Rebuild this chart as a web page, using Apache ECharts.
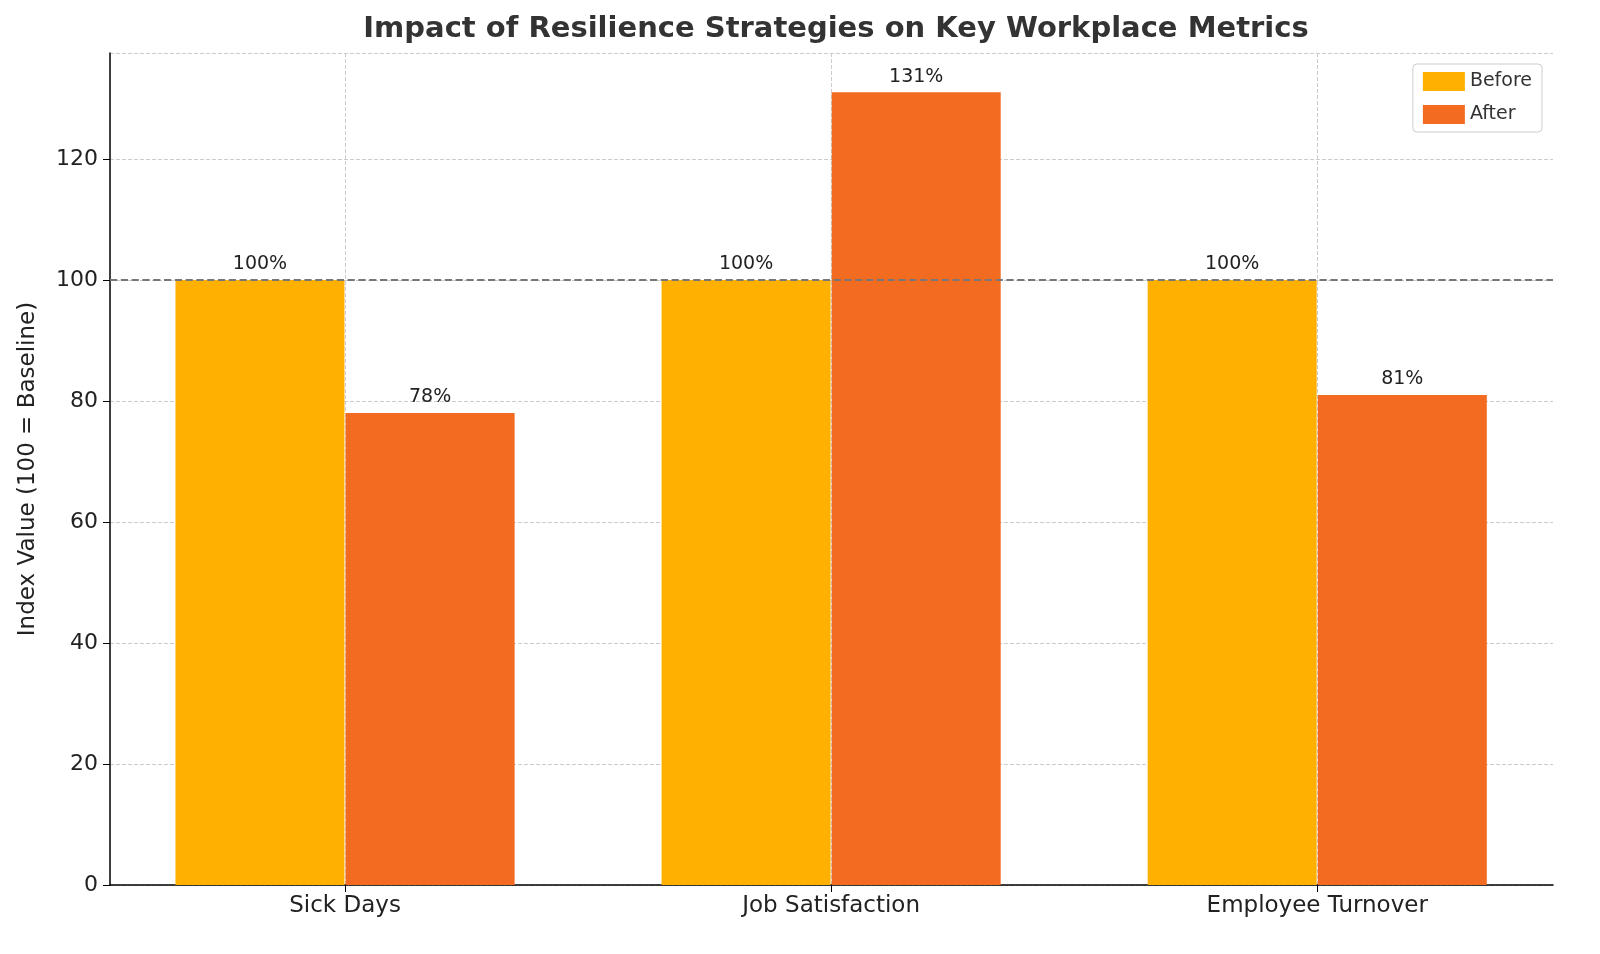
<!DOCTYPE html>
<html><head><meta charset="utf-8">
<script src="https://cdn.jsdelivr.net/npm/echarts@6/dist/echarts.min.js"></script>
<style>html,body{margin:0;padding:0;background:#fff}#c{width:1600px;height:954px}</style>
</head><body><div id="c"></div>
<script>
const categories = ["Sick Days", "Job Satisfaction", "Employee Turnover"];
const beforeValues = [100, 100, 100];
const afterValues = [78, 131, 81];
const yTicks = [0, 20, 40, 60, 80, 100, 120];

const off = 0.175;
const font = "DejaVu Sans";
const chart = echarts.init(document.getElementById('c'));
const lbl = {show:true, position:'top', distance:6, fontFamily:font, fontSize:19, color:'#222', formatter:p=>p.value[1]+'%'};
chart.setOption({
  animation:false,
  title:{text:'Impact of Resilience Strategies on Key Workplace Metrics', left:831, textAlign:'center', top:10,
    textStyle:{fontFamily:font, fontSize:29, fontWeight:'bold', color:'#333'}},
  legend:{right:58, top:64, orient:'vertical', icon:'rect', itemWidth:42, itemHeight:19, itemGap:14,
    borderColor:'#ccc', borderWidth:1, borderRadius:4, padding:[8,10,8,10],
    textStyle:{fontFamily:font, fontSize:19, color:'#333'}, data:['Before','After']},
  grid:{left:110, right:47, top:53, bottom:69, containLabel:false},
  xAxis:{type:'value', min:-0.4835, max:2.485,
    axisLine:{show:true, onZero:false, lineStyle:{color:'#000', width:1.5}},
    axisTick:{show:true, customValues:[0,1,2], length:7, lineStyle:{color:'#000'}},
    axisLabel:{customValues:[0,1,2], formatter:v=>categories[Math.round(v)], fontFamily:font, fontSize:23, color:'#222', margin:10},
    splitLine:{show:true, lineStyle:{type:'dashed', color:'#ccc'}}},
  yAxis:{type:'value', min:0, max:137.5, interval:20,
    name:'Index Value (100 = Baseline)', nameLocation:'middle', nameGap:70,
    nameTextStyle:{fontFamily:font, fontSize:23, color:'#222'},
    axisLine:{show:true, onZero:false, lineStyle:{color:'#000', width:1.5}},
    axisTick:{show:true, length:7, lineStyle:{color:'#000'}},
    axisLabel:{fontFamily:font, fontSize:22, color:'#222', margin:12, showMaxLabel:false},
    splitLine:{show:true, lineStyle:{type:'dashed', color:'#ccc'}}},
  series:[
    {name:'Before', type:'bar', barWidth:169, barGap:'-100%', itemStyle:{color:'#FFB000'},
     data:beforeValues.map((v,i)=>[i-off, v]), label:lbl,
     markLine:{symbol:'none', silent:true, label:{show:false}, lineStyle:{type:'dashed', color:'#777', width:1.8},
       data:[{yAxis:100}]}},
    {name:'After', type:'bar', barWidth:169, barGap:'-100%', itemStyle:{color:'#F26B21'},
     data:afterValues.map((v,i)=>[i+off, v]), label:lbl}
  ]
});
</script></body></html>
